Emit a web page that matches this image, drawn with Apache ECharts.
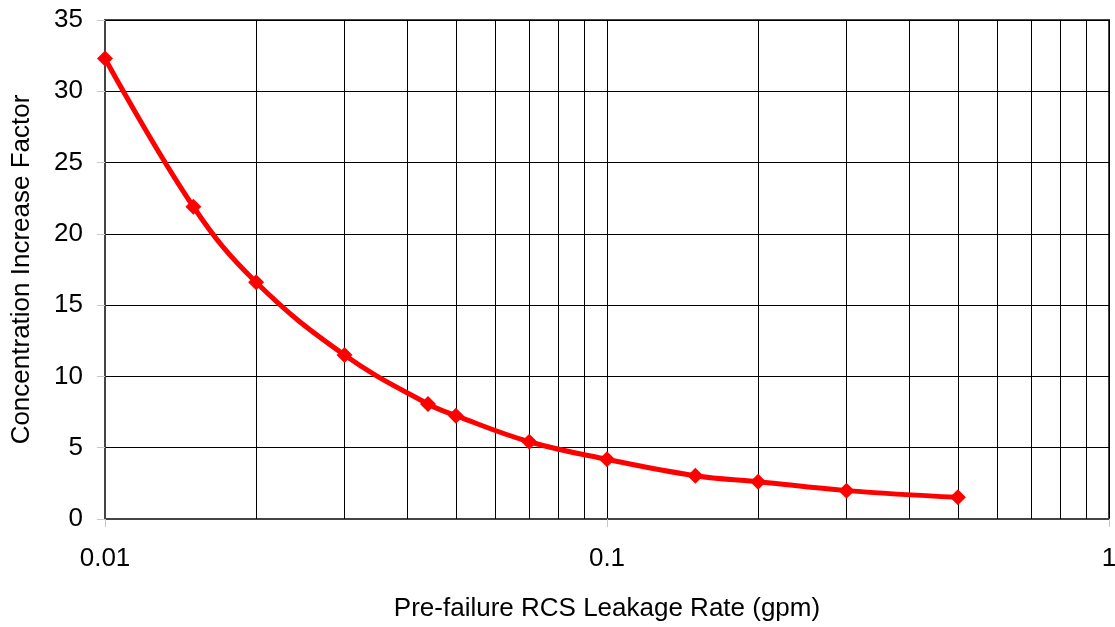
<!DOCTYPE html>
<html>
<head>
<meta charset="utf-8">
<script src="https://cdn.jsdelivr.net/npm/echarts@6/dist/echarts.min.js"></script>
<style>html,body{margin:0;padding:0;background:#fff;}#c{width:1115px;height:627px;}</style>
</head>
<body>
<div id="c"></div>
<script>
var leakRates = [0.01, 0.015, 0.02, 0.03, 0.044, 0.05, 0.07, 0.1, 0.15, 0.2, 0.3, 0.5];
var factors = [32.3, 21.9, 16.6, 11.5, 8.07, 7.25, 5.42, 4.19, 3.04, 2.62, 1.99, 1.52];
var minorGridX = [0.02, 0.03, 0.04, 0.05, 0.06, 0.07, 0.08, 0.09, 0.2, 0.3, 0.4, 0.5, 0.6, 0.7, 0.8, 0.9];
var xTitle = 'Pre-failure RCS Leakage Rate (gpm)';
var yTitle = 'Concentration Increase Factor';

var font = 'Arial, "Liberation Sans", sans-serif';
var chart = echarts.init(document.getElementById('c'));
chart.setOption({
  animation: false,
  backgroundColor: '#fff',
  grid: { left: 105, right: 6, top: 20, bottom: 108, show: true, borderColor: '#444', borderWidth: 2,
          containLabel: false, outerBoundsMode: 'none' },
  xAxis: {
    type: 'log', logBase: 10, min: 0.01, max: 1,
    name: xTitle, nameLocation: 'middle', nameGap: 77,
    nameTextStyle: { fontFamily: font, fontSize: 26, color: '#000' },
    axisLine: { lineStyle: { color: '#444', width: 2 } },
    axisTick: { show: true, length: 8, lineStyle: { color: '#c8c8c8' } },
    axisLabel: { fontFamily: font, fontSize: 26, color: '#000', margin: 27,
      formatter: function (v) { return String(v); } },
    splitLine: { show: true, lineStyle: { color: '#000', width: 1 } }
  },
  yAxis: {
    type: 'value', min: 0, max: 35, interval: 5,
    name: yTitle, nameLocation: 'middle', nameGap: 70,
    nameTextStyle: { fontFamily: font, fontSize: 26, color: '#000' },
    axisLine: { show: true, lineStyle: { color: '#444', width: 2 } },
    axisTick: { show: true, length: 8, lineStyle: { color: '#c8c8c8' } },
    axisLabel: { fontFamily: font, fontSize: 26, color: '#000', margin: 22 },
    splitLine: { show: true, lineStyle: { color: '#000', width: 1 } }
  },
  series: [
    {
      type: 'line', z: 1, silent: true, symbol: 'none',
      data: [],
      markLine: {
        silent: true, symbol: ['none', 'none'],
        label: { show: false },
        lineStyle: { color: '#000', width: 1, type: 'solid' },
        animation: false,
        data: minorGridX.map(function (v) { return { xAxis: v }; })
      }
    },
    {
      type: 'line', z: 5,
      data: leakRates.map(function (x, i) { return [x, factors[i]]; }),
      smooth: 0.4,
      symbol: 'diamond', symbolSize: 16,
      lineStyle: { color: '#ff0000', width: 5 },
      itemStyle: { color: '#ff0000' }
    }
  ]
});
</script>
</body>
</html>
